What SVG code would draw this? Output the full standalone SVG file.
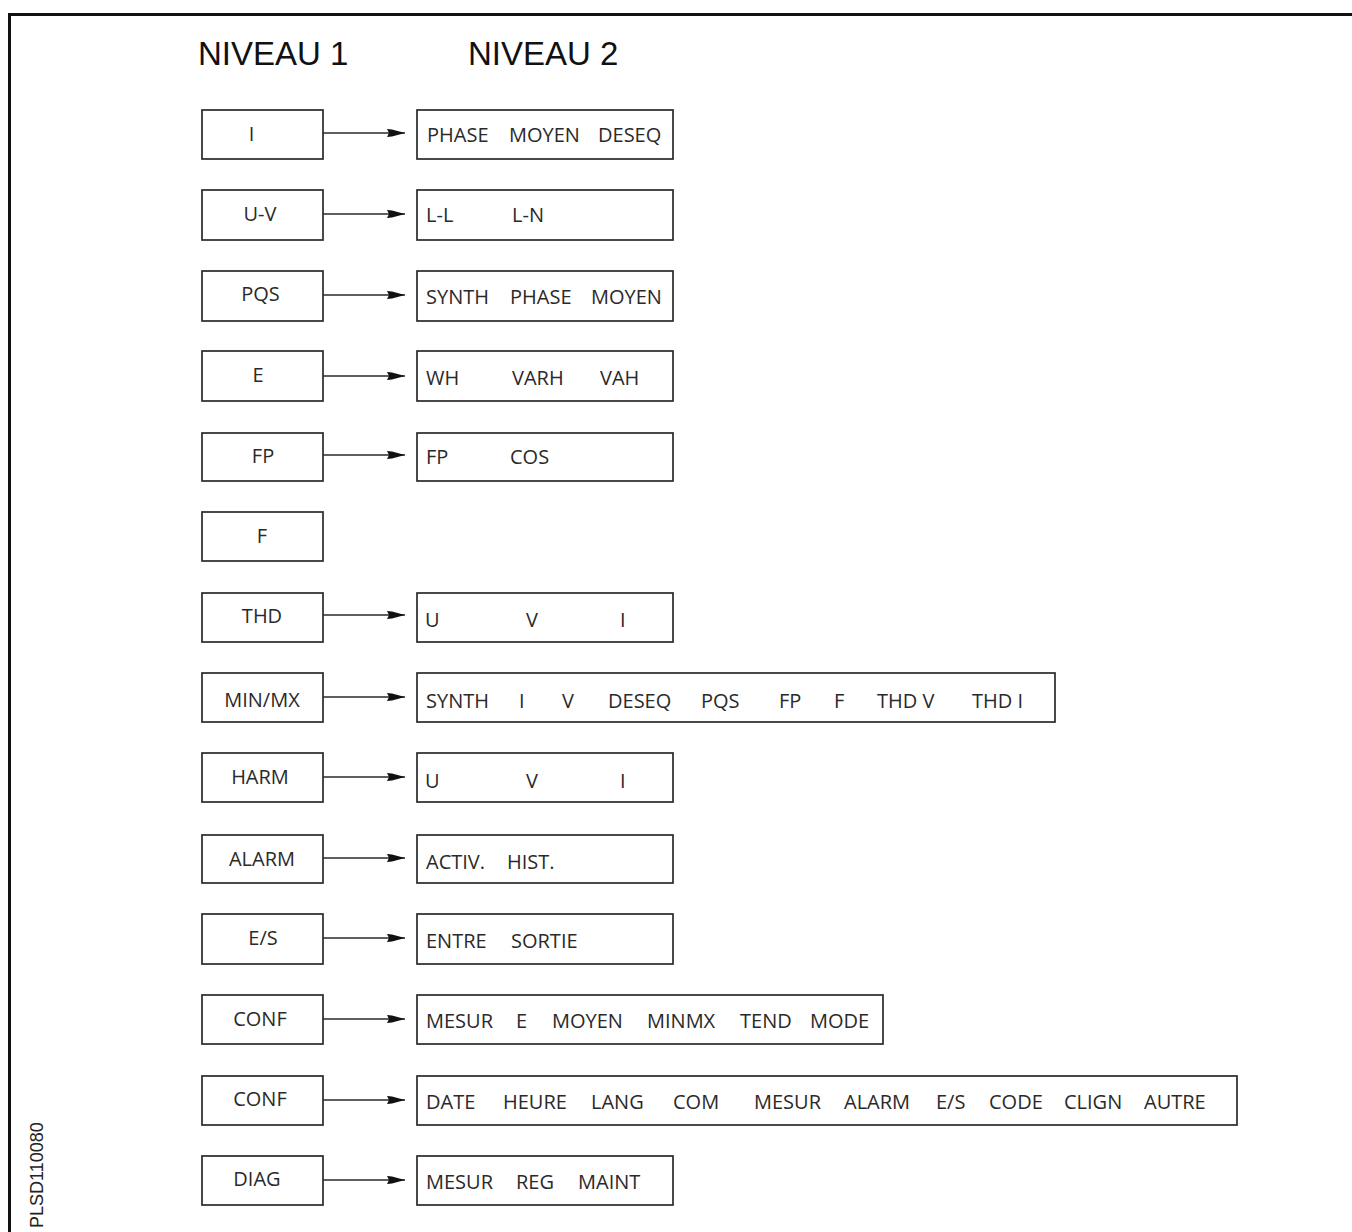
<svg xmlns="http://www.w3.org/2000/svg" width="1352" height="1232" viewBox="0 0 1352 1232">
<style>
.bx{fill:#fff;stroke:#2a2a2a;stroke-width:1.7}
.t{font-family:"Open Sans","DejaVu Sans",sans-serif;font-size:20px;fill:#2a2a2a}
.lm{text-anchor:middle}
.hd{font-family:"Liberation Sans",Arial,sans-serif;font-size:33px;fill:#111}
.cn{stroke:#2a2a2a;stroke-width:1.7;fill:none;marker-end:url(#ah)}
</style>
<defs>
<marker id="ah" markerUnits="userSpaceOnUse" markerWidth="20" markerHeight="12" refX="18" refY="6" orient="auto">
<path d="M0,2 L5,2.6 L18,6 L5,9.4 L0,10 L2,6 Z" fill="#111"/>
</marker>
</defs>
<rect width="1352" height="1232" fill="#fff"/>
<path d="M9.5 1232 V14.5 H1352" fill="none" stroke="#111" stroke-width="3"/>
<text class="hd" x="198" y="65">NIVEAU 1</text>
<text class="hd" x="468" y="65">NIVEAU 2</text>
<text font-family="Liberation Sans,Arial,sans-serif" font-size="18" fill="#222" transform="translate(43 1228) rotate(-90)">PLSD110080</text>

<g id="connectors">
<line class="cn" x1="323" y1="133" x2="405" y2="133"/>
<line class="cn" x1="323" y1="214" x2="405" y2="214"/>
<line class="cn" x1="323" y1="295" x2="405" y2="295"/>
<line class="cn" x1="323" y1="376" x2="405" y2="376"/>
<line class="cn" x1="323" y1="455" x2="405" y2="455"/>
<line class="cn" x1="323" y1="615" x2="405" y2="615"/>
<line class="cn" x1="323" y1="697" x2="405" y2="697"/>
<line class="cn" x1="323" y1="777" x2="405" y2="777"/>
<line class="cn" x1="323" y1="858" x2="405" y2="858"/>
<line class="cn" x1="323" y1="938" x2="405" y2="938"/>
<line class="cn" x1="323" y1="1019" x2="405" y2="1019"/>
<line class="cn" x1="323" y1="1100" x2="405" y2="1100"/>
<line class="cn" x1="323" y1="1180" x2="405" y2="1180"/>
</g>

<g id="n1-I"><rect class="bx" x="202" y="110" width="121" height="49"/><text class="t lm" x="251.5" y="141">I</text></g>
<g id="n2-I"><rect class="bx" x="417" y="110" width="256" height="49"/><text class="t" y="142"><tspan x="427">PHASE</tspan><tspan x="509">MOYEN</tspan><tspan x="598">DESEQ</tspan></text></g>

<g id="n1-UV"><rect class="bx" x="202" y="190" width="121" height="50"/><text class="t lm" x="260" y="221">U-V</text></g>
<g id="n2-UV"><rect class="bx" x="417" y="190" width="256" height="50"/><text class="t" y="222"><tspan x="426">L-L</tspan><tspan x="512">L-N</tspan></text></g>

<g id="n1-PQS"><rect class="bx" x="202" y="271" width="121" height="50"/><text class="t lm" x="260.5" y="301">PQS</text></g>
<g id="n2-PQS"><rect class="bx" x="417" y="271" width="256" height="50"/><text class="t" y="304"><tspan x="426">SYNTH</tspan><tspan x="510">PHASE</tspan><tspan x="591">MOYEN</tspan></text></g>

<g id="n1-E"><rect class="bx" x="202" y="351" width="121" height="50"/><text class="t lm" x="258" y="382">E</text></g>
<g id="n2-E"><rect class="bx" x="417" y="351" width="256" height="50"/><text class="t" y="385"><tspan x="426">WH</tspan><tspan x="512">VARH</tspan><tspan x="600">VAH</tspan></text></g>

<g id="n1-FP"><rect class="bx" x="202" y="433" width="121" height="48"/><text class="t lm" x="263" y="463">FP</text></g>
<g id="n2-FP"><rect class="bx" x="417" y="433" width="256" height="48"/><text class="t" y="464"><tspan x="426">FP</tspan><tspan x="510">COS</tspan></text></g>

<g id="n1-F"><rect class="bx" x="202" y="512" width="121" height="49"/><text class="t lm" x="262" y="543">F</text></g>

<g id="n1-THD"><rect class="bx" x="202" y="593" width="121" height="49"/><text class="t lm" x="262" y="623">THD</text></g>
<g id="n2-THD"><rect class="bx" x="417" y="593" width="256" height="49"/><text class="t" y="627"><tspan x="425">U</tspan><tspan x="526">V</tspan><tspan x="620">I</tspan></text></g>

<g id="n1-MINMX"><rect class="bx" x="202" y="673" width="121" height="49"/><text class="t lm" x="262" y="707">MIN/MX</text></g>
<g id="n2-MINMX"><rect class="bx" x="417" y="673" width="638" height="49"/><text class="t" y="708"><tspan x="426">SYNTH</tspan><tspan x="519">I</tspan><tspan x="562">V</tspan><tspan x="608">DESEQ</tspan><tspan x="701">PQS</tspan><tspan x="779">FP</tspan><tspan x="834">F</tspan><tspan x="877">THD V</tspan><tspan x="972">THD I</tspan></text></g>

<g id="n1-HARM"><rect class="bx" x="202" y="753" width="121" height="49"/><text class="t lm" x="260" y="784">HARM</text></g>
<g id="n2-HARM"><rect class="bx" x="417" y="753" width="256" height="49"/><text class="t" y="788"><tspan x="425">U</tspan><tspan x="526">V</tspan><tspan x="620">I</tspan></text></g>

<g id="n1-ALARM"><rect class="bx" x="202" y="835" width="121" height="48"/><text class="t lm" x="262" y="866">ALARM</text></g>
<g id="n2-ALARM"><rect class="bx" x="417" y="835" width="256" height="48"/><text class="t" y="869"><tspan x="426">ACTIV.</tspan><tspan x="507">HIST.</tspan></text></g>

<g id="n1-ES"><rect class="bx" x="202" y="914" width="121" height="50"/><text class="t lm" x="263" y="945">E/S</text></g>
<g id="n2-ES"><rect class="bx" x="417" y="914" width="256" height="50"/><text class="t" y="948"><tspan x="426">ENTRE</tspan><tspan x="511">SORTIE</tspan></text></g>

<g id="n1-CONF1"><rect class="bx" x="202" y="995" width="121" height="49"/><text class="t lm" x="260" y="1026">CONF</text></g>
<g id="n2-CONF1"><rect class="bx" x="417" y="995" width="466" height="49"/><text class="t" y="1028"><tspan x="426">MESUR</tspan><tspan x="516">E</tspan><tspan x="552">MOYEN</tspan><tspan x="647">MINMX</tspan><tspan x="740">TEND</tspan><tspan x="810">MODE</tspan></text></g>

<g id="n1-CONF2"><rect class="bx" x="202" y="1076" width="121" height="49"/><text class="t lm" x="260" y="1106">CONF</text></g>
<g id="n2-CONF2"><rect class="bx" x="417" y="1076" width="820" height="49"/><text class="t" y="1109"><tspan x="426">DATE</tspan><tspan x="503">HEURE</tspan><tspan x="591">LANG</tspan><tspan x="673">COM</tspan><tspan x="754">MESUR</tspan><tspan x="844">ALARM</tspan><tspan x="936">E/S</tspan><tspan x="989">CODE</tspan><tspan x="1064">CLIGN</tspan><tspan x="1144">AUTRE</tspan></text></g>

<g id="n1-DIAG"><rect class="bx" x="202" y="1156" width="121" height="49"/><text class="t lm" x="257" y="1186">DIAG</text></g>
<g id="n2-DIAG"><rect class="bx" x="417" y="1156" width="256" height="49"/><text class="t" y="1189"><tspan x="426">MESUR</tspan><tspan x="516">REG</tspan><tspan x="578">MAINT</tspan></text></g>
</svg>
